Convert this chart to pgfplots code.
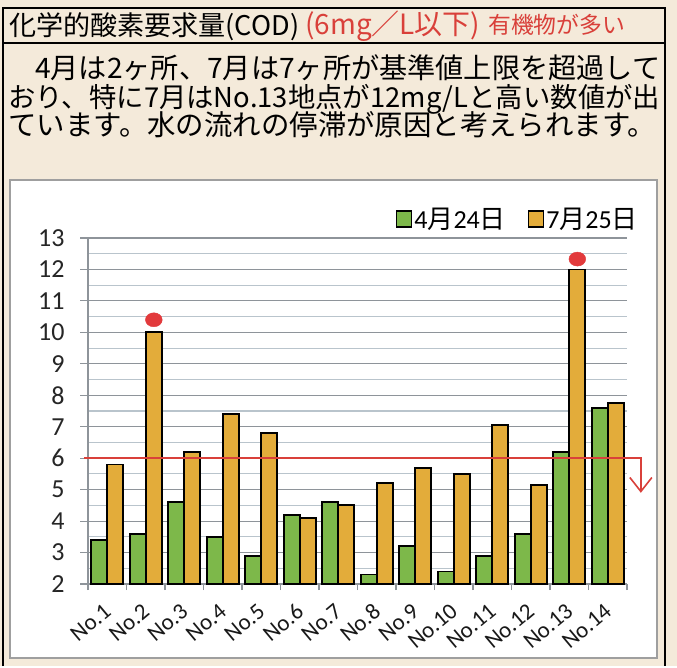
\documentclass[border=0pt]{standalone}
\usepackage{pgfplots}
\pgfplotsset{compat=1.18}
\usepackage{pgfplotstable}
\usepackage{fontspec}
\setmainfont{Carlito}
\newfontfamily\jp{Noto Sans CJK JP}
\usetikzlibrary{arrows.meta}
\definecolor{bg}{HTML}{F4EADA}
\definecolor{gbar}{HTML}{7DB84A}
\definecolor{obar}{HTML}{E3AC3A}
\definecolor{redt}{HTML}{D9403A}
\definecolor{dotred}{HTML}{E23A3C}
\definecolor{majgrid}{HTML}{8E949A}
\definecolor{mingrid}{HTML}{B9C4CC}
\pgfplotstableread{
x g o
0 3.4 5.8
1 3.6 10.0
2 4.6 6.2
3 3.5 7.4
4 2.9 6.8
5 4.2 4.1
6 4.6 4.5
7 2.3 5.2
8 3.2 5.7
9 2.4 5.5
10 2.9 7.05
11 3.6 5.15
12 6.2 12.0
13 7.6 7.75
}\cod
\begin{document}
\begin{tikzpicture}
\fill[bg] (0bp,0bp) rectangle (677bp,-666bp);
\fill[white] (10bp,-180bp) rectangle (657bp,-658bp);
\draw[gray!75, line width=1.2bp] (10bp,-180bp) rectangle (657bp,-658bp);
\draw[black, line width=2.5bp] (3bp,-666bp) -- (3bp,-8bp) -- (665bp,-8bp) -- (665bp,-666bp);
\draw[black, line width=1.8bp] (3bp,-43bp) -- (665bp,-43bp);
% title
\node[anchor=base west, inner sep=0pt] at (9bp,-35bp) {\resizebox{290bp}{!}{\jp\fontsize{25bp}{25bp}\selectfont 化学的酸素要求量(COD)}};
\node[anchor=base west, inner sep=0pt, text=redt] at (305bp,-35bp) {\resizebox{175bp}{!}{\jp\fontsize{25bp}{25bp}\selectfont (6mg／L以下)}};
\node[anchor=base west, inner sep=0pt, text=redt] at (488bp,-34bp) {\resizebox{137bp}{!}{\jp\fontsize{20bp}{20bp}\selectfont 有機物が多い}};
% paragraph
\node[anchor=base west, inner sep=0pt] at (35bp,-78bp) {\resizebox{625bp}{!}{\jp\fontsize{27bp}{27bp}\selectfont 4月は2ヶ所、7月は7ヶ所が基準値上限を超過して}};
\node[anchor=base west, inner sep=0pt] at (8bp,-107bp) {\resizebox{652bp}{!}{\jp\fontsize{27bp}{27bp}\selectfont おり、特に7月はNo.13地点が12mg/Lと高い数値が出}};
\node[anchor=base west, inner sep=0pt] at (8bp,-135bp) {\resizebox{648bp}{!}{\jp\fontsize{27bp}{27bp}\selectfont ています。水の流れの停滞が原因と考えられます。}};
\begin{axis}[
  at={(88bp,-584bp)}, anchor=south west,
  scale only axis, width=539bp, height=346bp,
  ybar=0pt, bar width=16bp,
  xmin=-0.5, xmax=13.5, ymin=2, ymax=13,
  clip=false,
  axis x line*=bottom, axis y line*=left,
  axis line style={draw=majgrid, line width=1.2bp, -},
  ytick={2,...,13},
  minor ytick={2.5,3.5,...,12.5},
  ymajorgrids, yminorgrids,
  major grid style={draw=majgrid, line width=1.1bp},
  minor grid style={draw=mingrid, line width=1.1bp},
  ytick style={draw=majgrid, line width=1.1bp},
  tick align=outside,
  major tick length=8bp, minor tick length=0pt,
  /pgf/number format/assume math mode=true,
  yticklabel style={font=\fontsize{26bp}{26bp}\selectfont, text=black!85, xshift=-12bp},
  xtick={0,...,13},
  xticklabels={No.1,No.2,No.3,No.4,No.5,No.6,No.7,No.8,No.9,No.10,No.11,No.12,No.13,No.14},
  xtick style={draw=none},
  xticklabel style={font=\fontsize{23bp}{23bp}\selectfont, text=black!90, xshift=3bp, yshift=-14bp, rotate=40, anchor=east},
  extra x ticks={-0.5,0.5,...,13.5},
  extra x tick labels={},
  extra x tick style={grid=none, xtick style={draw=majgrid, line width=1.1bp}, major tick length=6bp},
  legend style={at={(1,1)}, anchor=south east, xshift=16bp, yshift=4bp, draw=none, fill=none,
    legend columns=2, font=\fontsize{26bp}{26bp}\selectfont,
    /tikz/every even column/.append style={column sep=20bp}},
  legend image code/.code={\draw[#1, line width=1.4bp] (0bp,-8bp) rectangle (15bp,8bp);},
]
\addplot[draw=black, line width=1.8bp, fill=gbar] table[x=x, y=g] {\cod};
\addlegendentry{4{\jp 月}24{\jp 日}}
\addplot[draw=black, line width=1.8bp, fill=obar] table[x=x, y=o] {\cod};
\addlegendentry{7{\jp 月}25{\jp 日}}
\addplot[forget plot, only marks, mark=*, mark size=7bp, mark options={draw=dotred, fill=dotred, xscale=1.2}] coordinates {(1.21,10.4) (12.21,12.33)};
\addplot[forget plot, sharp plot, draw=redt, line width=1.6bp, -{Straight Barb[length=14bp, width=22bp, line width=1.6bp]}] coordinates {(-0.6,6) (13.86,6) (13.86,4.9)};
\end{axis}
\end{tikzpicture}
\end{document}
